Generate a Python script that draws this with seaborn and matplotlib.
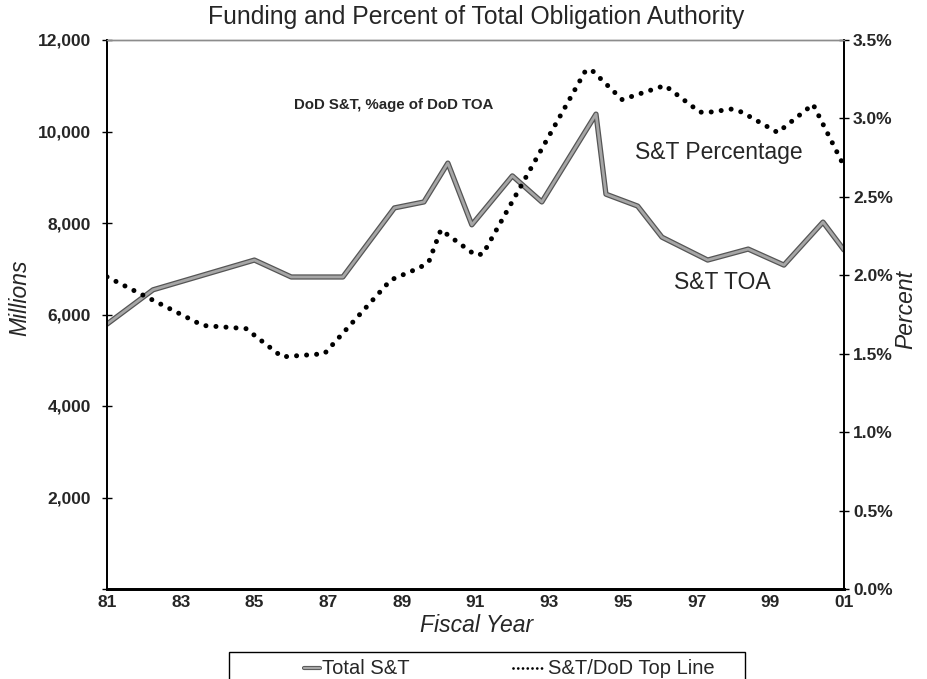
import matplotlib
matplotlib.use("Agg")
import matplotlib.pyplot as plt
import matplotlib.patheffects as pe
from matplotlib.lines import Line2D
from matplotlib.patches import Rectangle
import seaborn as sns

# Total S&T funding, millions of dollars, by fiscal-year position
toa_year = [81.0, 82.25, 85.0, 86.0, 87.4, 88.8, 89.6, 90.25, 90.9, 92.0,
            92.8, 94.27, 94.54, 95.4, 96.06, 97.3, 98.4, 99.37, 100.43, 101.0]
toa_millions = [5790, 6540, 7190, 6820, 6820, 8330, 8460, 9310, 7960, 9030,
                8460, 10380, 8630, 8370, 7690, 7190, 7430, 7080, 8020, 7410]

# S&T as a percent of the DoD top line
pct_year = [81.0, 83.6, 84.77, 85.75, 86.9, 88.7, 89.5, 89.74, 90.06, 90.99,
            91.2, 94.0, 94.19, 94.98, 96.14, 97.09, 97.36, 97.96, 98.23, 99.2,
            100.16, 100.97]
pct_share = [1.99, 1.68, 1.66, 1.48, 1.50, 1.97, 2.05, 2.09, 2.29, 2.13,
             2.135, 3.31, 3.30, 3.12, 3.21, 3.04, 3.04, 3.06, 3.04, 2.91,
             3.09, 2.71]

year_ticks = list(range(81, 102))
year_labels = [("%02d" % (y % 100)) if (y - 81) % 2 == 0 else "" for y in year_ticks]
millions_ticks = [0, 2000, 4000, 6000, 8000, 10000, 12000]
millions_labels = ["" if v == 0 else f"{v:,}" for v in millions_ticks]
pct_ticks = [0.0, 0.5, 1.0, 1.5, 2.0, 2.5, 3.0, 3.5]
pct_labels = [f"{v:.1f}%" for v in pct_ticks]
series_names = ["Total S&T", "S&T/DoD Top Line"]

sns.set_style("white")
plt.rcParams["font.family"] = ["Liberation Sans", "DejaVu Sans"]

W, H = 927, 679
fig = plt.figure(figsize=(W / 100, H / 100), dpi=100)
L, R, T, B = 107, 844, 40, 589
ax = fig.add_axes([L / W, 1 - B / H, (R - L) / W, (B - T) / H])
ax2 = ax.twinx()

GRAY = "#a6a6a6"
EDGE = "#555555"
gray_fx = [pe.Stroke(linewidth=3.8, foreground=EDGE),
           pe.Stroke(linewidth=2.0, foreground=GRAY)]
DOTS = (0, (0.01, 2.0))

sns.lineplot(x=toa_year, y=toa_millions, ax=ax, sort=False, estimator=None,
             color=GRAY, linewidth=2.0, path_effects=gray_fx)
sns.lineplot(x=pct_year, y=pct_share, ax=ax2, sort=False, estimator=None,
             color="black", linewidth=3.6, linestyle=DOTS,
             dash_capstyle="round")

ax.set_xlim(81, 101)
ax.set_ylim(0, 12000)
ax2.set_ylim(0, 3.5)

ax.set_xticks(year_ticks)
ax.set_xticklabels(year_labels, fontsize=12.5, fontweight="bold")
ax.set_yticks(millions_ticks)
ax.set_yticklabels(millions_labels, fontsize=12.5, fontweight="bold")
ax2.set_yticks(pct_ticks)
ax2.set_yticklabels(pct_labels, fontsize=12.5, fontweight="bold")

ax.tick_params(axis="x", direction="inout", length=7, width=1, pad=1, color="black")
ax.tick_params(axis="y", direction="inout", length=7, width=1, pad=8, color="black")
ax2.tick_params(axis="y", direction="inout", length=7, width=1, pad=3, color="black")
ax.set_xlabel("")
ax.set_ylabel("")
ax2.set_ylabel("")

for a in (ax, ax2):
    for s in a.spines.values():
        s.set_visible(True)
    a.spines["left"].set_color("black")
    a.spines["left"].set_linewidth(1.3)
    a.spines["right"].set_color("black")
    a.spines["right"].set_linewidth(1.3)
    a.spines["bottom"].set_color("black")
    a.spines["bottom"].set_linewidth(2.0)
    a.spines["top"].set_color("#8c8c8c")
    a.spines["top"].set_linewidth(1.0)

fig.text(476 / W, 1 - 17 / H, "Funding and Percent of Total Obligation Authority",
         ha="center", va="center", fontsize=17.8)
fig.text(477 / W, 1 - 626 / H, "Fiscal Year", ha="center", va="center",
         fontsize=16.5, style="italic")
fig.text(20 / W, 1 - 298 / H, "Millions", ha="center", va="center",
         fontsize=16.5, style="italic", rotation=90)
fig.text(906 / W, 1 - 310 / H, "Percent", ha="center", va="center",
         fontsize=16.5, style="italic", rotation=90)

fig.text(394 / W, 1 - 105 / H, "DoD S&T, %age of DoD TOA", ha="center",
         va="center", fontsize=10.8, fontweight="bold")
fig.text(719 / W, 1 - 152 / H, "S&T Percentage", ha="center", va="center",
         fontsize=16.5)
fig.text(722 / W, 1 - 282 / H, "S&T TOA", ha="center", va="center",
         fontsize=16.5)


# Legend box along the bottom edge, entries laid out in figure pixels
def fx(px):
    return px / W


def fy(py):
    return 1 - py / H


fig.add_artist(Rectangle((fx(229), fy(700)), fx(745) - fx(229), fy(652) - fy(700),
                         transform=fig.transFigure, facecolor="white",
                         edgecolor="black", linewidth=1.0))
leg_y = 668
fig.add_artist(Line2D([fx(304), fx(320)], [fy(leg_y), fy(leg_y)],
                      transform=fig.transFigure, color=GRAY, linewidth=1.6,
                      path_effects=[pe.Stroke(linewidth=3.0, foreground=EDGE),
                                    pe.Stroke(linewidth=1.6, foreground=GRAY)]))
fig.text(fx(322), fy(leg_y), series_names[0], ha="left", va="center", fontsize=14.5)
fig.add_artist(Line2D([fx(513), fx(545)], [fy(leg_y), fy(leg_y)],
                      transform=fig.transFigure, color="black", linewidth=2.0,
                      linestyle=(0, (0.01, 1.7)), dash_capstyle="round"))
fig.text(fx(548), fy(leg_y), series_names[1], ha="left", va="center", fontsize=14.5)

fig.savefig("out.png", dpi=100)
